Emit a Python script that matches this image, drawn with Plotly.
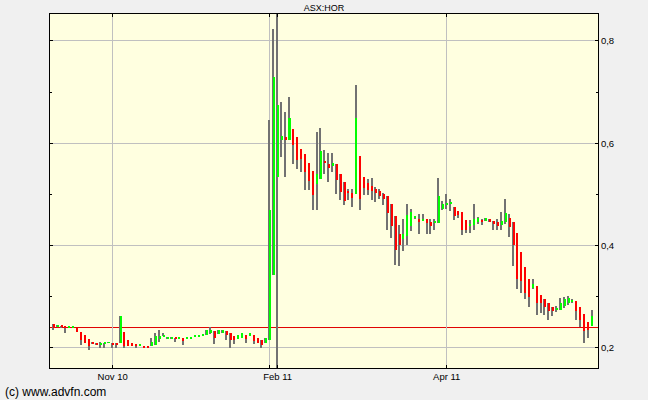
import numpy as np
import plotly.graph_objects as go

# ---- data ----
opens = [0.2475, 0.2422, 0.2435, 0.2420, 0.2410, 0.2410, 0.2397, 0.2306, 0.2254, 0.2176,
         0.2110, 0.2098, 0.2071, 0.2085, 0.2098, 0.2098, 0.2098, 0.2098, 0.2306, 0.2150,
         0.2098, 0.2085, 0.2051, 0.2040, 0.2020, 0.2032, 0.2065, 0.2176, 0.2227, 0.2195,
         0.2195, 0.2201, 0.2195, 0.2195, 0.2195, 0.2182, 0.2208, 0.2221, 0.2235, 0.2248,
         0.2300, 0.2326, 0.2267, 0.2293, 0.2326, 0.2293, 0.2228, 0.2182, 0.2202, 0.2261,
         0.2228, 0.2261, 0.2202, 0.2163, 0.2098, 0.2150, 0.3420, 0.5342, 0.6072, 0.6124,
         0.6072, 0.6287, 0.6124, 0.5896, 0.5785, 0.5622, 0.5453, 0.5212, 0.5309, 0.5660,
         0.5593, 0.5561, 0.5593, 0.5397, 0.5246, 0.5075, 0.5036, 0.5003, 0.5744, 0.5351,
         0.5220, 0.5167, 0.5102, 0.5062, 0.5016, 0.4971, 0.4807, 0.4577, 0.4236, 0.4131,
         0.4197, 0.4393, 0.4545, 0.4525, 0.4479, 0.4512, 0.4472, 0.4446, 0.4446, 0.4708,
         0.4807, 0.4826, 0.4748, 0.4675, 0.4656, 0.4504, 0.4399, 0.4406, 0.4464, 0.4504,
         0.4484, 0.4517, 0.4484, 0.4464, 0.4406, 0.4464, 0.4536, 0.4464, 0.4242, 0.3876,
         0.3589, 0.3353, 0.3170, 0.3209, 0.3033, 0.2948, 0.2870, 0.2798, 0.2739, 0.2752,
         0.2830, 0.2870, 0.2896, 0.2915, 0.2798, 0.2674, 0.2504, 0.2425]
highs = [0.2475, 0.2450, 0.2435, 0.2422, 0.2422, 0.2422, 0.2397, 0.2306, 0.2254, 0.2176,
         0.2110, 0.2098, 0.2110, 0.2098, 0.2110, 0.2098, 0.2098, 0.2618, 0.2306, 0.2150,
         0.2098, 0.2085, 0.2065, 0.2040, 0.2020, 0.2201, 0.2293, 0.2345, 0.2293, 0.2201,
         0.2201, 0.2201, 0.2201, 0.2195, 0.2215, 0.2215, 0.2261, 0.2261, 0.2267, 0.2345,
         0.2410, 0.2326, 0.2358, 0.2358, 0.2326, 0.2293, 0.2228, 0.2261, 0.2300, 0.2261,
         0.2300, 0.2261, 0.2202, 0.2163, 0.2202, 0.6450, 0.8240, 0.9500, 0.6810, 0.6612,
         0.6906, 0.6287, 0.6124, 0.5896, 0.5785, 0.5622, 0.5453, 0.6220, 0.6306, 0.5860,
         0.5810, 0.5810, 0.5593, 0.5397, 0.5246, 0.5100, 0.5100, 0.7134, 0.5744, 0.5351,
         0.5298, 0.5318, 0.5154, 0.5102, 0.5036, 0.4971, 0.4807, 0.4577, 0.4413, 0.4521,
         0.4807, 0.4708, 0.4570, 0.4610, 0.4610, 0.4512, 0.4512, 0.4512, 0.5318, 0.4872,
         0.5003, 0.4905, 0.4748, 0.4675, 0.4656, 0.4504, 0.4497, 0.4817, 0.4569, 0.4517,
         0.4536, 0.4517, 0.4484, 0.4530, 0.4667, 0.4909, 0.4621, 0.4464, 0.4242, 0.3876,
         0.3589, 0.3353, 0.3353, 0.3209, 0.3033, 0.2948, 0.2870, 0.2798, 0.2817, 0.2981,
         0.3000, 0.3013, 0.2961, 0.2915, 0.2798, 0.2674, 0.2504, 0.2752]
lows = [0.2345, 0.2422, 0.2410, 0.2293, 0.2410, 0.2400, 0.2306, 0.2065, 0.2098, 0.1953,
        0.2071, 0.2071, 0.2000, 0.2000, 0.2098, 0.2000, 0.2000, 0.2098, 0.2000, 0.2032,
        0.2032, 0.2000, 0.2051, 0.2013, 0.2000, 0.2032, 0.2065, 0.2110, 0.2227, 0.2195,
        0.2195, 0.2110, 0.2195, 0.2065, 0.2195, 0.2182, 0.2208, 0.2221, 0.2235, 0.2248,
        0.2280, 0.2085, 0.2267, 0.2293, 0.2150, 0.1993, 0.2085, 0.2182, 0.2202, 0.2098,
        0.2228, 0.2085, 0.2098, 0.1993, 0.2098, 0.2150, 0.3420, 0.1000, 0.5733, 0.5342,
        0.6072, 0.5603, 0.5505, 0.5430, 0.5081, 0.5081, 0.4690, 0.4690, 0.5309, 0.5406,
        0.5246, 0.5443, 0.5003, 0.4892, 0.4793, 0.4890, 0.4754, 0.5003, 0.4695, 0.4984,
        0.4984, 0.4892, 0.4853, 0.4905, 0.4787, 0.4302, 0.4151, 0.3626, 0.3594, 0.3889,
        0.4020, 0.4282, 0.4520, 0.4236, 0.4479, 0.4236, 0.4236, 0.4315, 0.4433, 0.4695,
        0.4708, 0.4675, 0.4498, 0.4550, 0.4216, 0.4242, 0.4255, 0.4307, 0.4419, 0.4406,
        0.4484, 0.4464, 0.4307, 0.4307, 0.4307, 0.4419, 0.4177, 0.3602, 0.3157, 0.3079,
        0.2961, 0.2804, 0.3144, 0.2647, 0.2687, 0.2654, 0.2556, 0.2634, 0.2700, 0.2739,
        0.2785, 0.2837, 0.2870, 0.2556, 0.2412, 0.2098, 0.2196, 0.2425]
closes = [0.2397, 0.2450, 0.2415, 0.2410, 0.2422, 0.2422, 0.2306, 0.2150, 0.2098, 0.2032,
          0.2071, 0.2071, 0.2098, 0.2098, 0.2110, 0.2071, 0.2071, 0.2618, 0.2032, 0.2032,
          0.2032, 0.2032, 0.2065, 0.2013, 0.2000, 0.2110, 0.2240, 0.2240, 0.2254, 0.2201,
          0.2201, 0.2176, 0.2201, 0.2130, 0.2215, 0.2215, 0.2261, 0.2261, 0.2267, 0.2345,
          0.2345, 0.2202, 0.2345, 0.2358, 0.2248, 0.2163, 0.2150, 0.2261, 0.2300, 0.2182,
          0.2300, 0.2137, 0.2098, 0.2065, 0.2202, 0.4690, 0.7296, 0.6750, 0.6137, 0.6059,
          0.6500, 0.5961, 0.5668, 0.5687, 0.5440, 0.5257, 0.4997, 0.5407, 0.5844, 0.5620,
          0.5515, 0.5613, 0.5285, 0.5056, 0.4872, 0.5040, 0.4938, 0.6492, 0.4918, 0.5121,
          0.5082, 0.5069, 0.5023, 0.4971, 0.4905, 0.4630, 0.4380, 0.3921, 0.4020, 0.4236,
          0.4590, 0.4662, 0.4555, 0.4459, 0.4525, 0.4433, 0.4380, 0.4453, 0.4971, 0.4807,
          0.4840, 0.4833, 0.4577, 0.4590, 0.4315, 0.4301, 0.4432, 0.4517, 0.4549, 0.4464,
          0.4536, 0.4464, 0.4419, 0.4386, 0.4491, 0.4634, 0.4366, 0.4007, 0.3340, 0.3308,
          0.3079, 0.3000, 0.3242, 0.2883, 0.2883, 0.2798, 0.2719, 0.2719, 0.2785, 0.2883,
          0.2948, 0.2974, 0.2941, 0.2719, 0.2556, 0.2327, 0.2347, 0.2634]
tick_positions = [15, 55, 57, 100]
tick_labels = ["Nov 10", "", "Feb 11", "Apr 11"]
ref_level = 0.24
chart_title = "ASX:HOR"
credit = "(c) www.advfn.com"

# ---- build figure ----
x = list(range(len(opens)))
o = np.array(opens)
c = np.array(closes)
h = np.array(highs)
l = np.array(lows)
body_base = np.minimum(o, c)
body_height = np.maximum(np.abs(c - o), 0.0018)
body_colors = ['#00FF00' if cc >= oo else '#FF0000' for oo, cc in zip(opens, closes)]

BODY_W = 0.51
fig = go.Figure()
# wicks (high-low range), drawn first so bodies sit on top
fig.add_trace(go.Bar(
    x=x, y=h - l, base=l, width=0.26, offset=-BODY_W / 2,
    marker=dict(color='#707070', opacity=0.99, line=dict(width=0)),
    hoverinfo='skip', showlegend=False))
# bodies (open-close)
fig.add_trace(go.Bar(
    x=x, y=body_height, base=body_base, width=BODY_W, offset=-BODY_W / 2,
    marker=dict(color=body_colors, opacity=0.99, line=dict(width=0)),
    hoverinfo='skip', showlegend=False))

fig.update_layout(
    width=648, height=400,
    margin=dict(l=50, r=50, t=14, b=32),
    paper_bgcolor='#F0F0F0', plot_bgcolor='#FFFFE0',
    showlegend=False, separators=', ',
    barmode='overlay', bargap=0, bargroupgap=0,
    font=dict(family='Liberation Sans, Arial, sans-serif', size=9.5, color='black'),
    title=dict(text=chart_title, x=0.5, xanchor='center', y=0.981, yanchor='middle',
               font=dict(size=9, color='black')),
)
fig.update_xaxes(
    range=[-0.94, 138.5], tickmode='array', tickvals=tick_positions, ticktext=tick_labels,
    showgrid=True, gridcolor='#C0C0C0', gridwidth=1,
    showline=True, linecolor='black', linewidth=1, mirror='ticks',
    ticks='inside', ticklen=3, tickcolor='black', zeroline=False, fixedrange=True)
fig.update_yaxes(
    side='right', range=[0.1609, 0.8527], tickmode='linear', tick0=0.2, dtick=0.2,
    tickformat='.1f', showgrid=True, gridcolor='#C0C0C0', gridwidth=1,
    showline=True, linecolor='black', linewidth=1, mirror='ticks',
    ticks='inside', ticklen=3, tickcolor='black', zeroline=False, fixedrange=True,
    minor=dict(tick0=0.1, dtick=0.1, ticks='inside', ticklen=2, tickcolor='black', showgrid=False))
fig.add_shape(type='line', xref='paper', x0=0, x1=1, yref='y', y0=ref_level, y1=ref_level,
              line=dict(color='#E00000', width=1), layer='between')
fig.add_annotation(text=credit, xref='paper', yref='paper', x=0, y=0,
                   xanchor='left', yanchor='middle', xshift=-47, yshift=-23.5,
                   showarrow=False, font=dict(size=12, color='black'))

fig.write_html('out.html', config={'displayModeBar': False},
               post_script="document.body.style.margin='0';")
